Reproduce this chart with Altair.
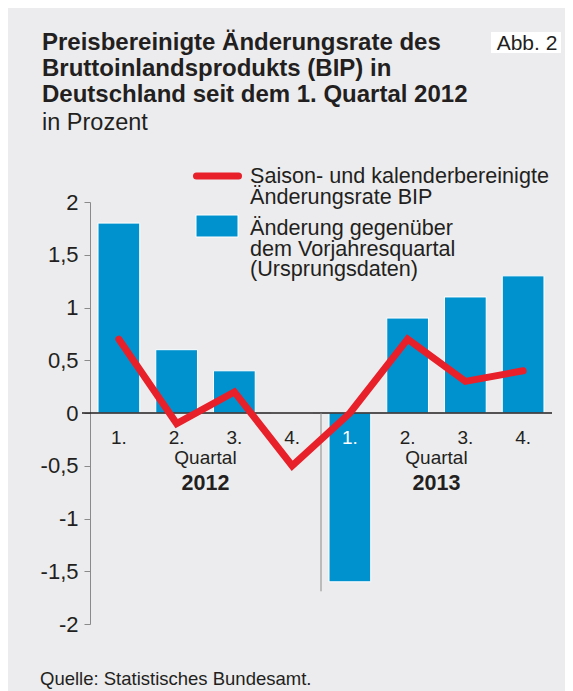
import altair as alt
import pandas as pd

# ---- data ----
quarters = ["Q1 2012", "Q2 2012", "Q3 2012", "Q4 2012",
            "Q1 2013", "Q2 2013", "Q3 2013", "Q4 2013"]
quarter_labels = ["1.", "2.", "3.", "4.", "1.", "2.", "3.", "4."]
label_colors = ["#231f20", "#231f20", "#231f20", "#231f20",
                "#ffffff", "#231f20", "#231f20", "#231f20"]
yoy_change = [1.8, 0.6, 0.4, 0.0, -1.6, 0.9, 1.1, 1.3]
sa_change = [0.7, -0.1, 0.2, -0.5, 0.0, 0.7, 0.3, 0.4]
years = ["2012", "2013"]
year_anchor = ["Q2 2012", "Q2 2013"]
y_ticks = [-2, -1.5, -1, -0.5, 0, 0.5, 1, 1.5, 2]

df = pd.DataFrame({
    "q": quarters,
    "lab": quarter_labels,
    "col": label_colors,
    "yoy": yoy_change,
    "sa": sa_change,
})
years_df = pd.DataFrame({"q": year_anchor, "year": years})

FONT = "Liberation Sans"
TXT = "#231f20"
BLUE = "#0092cf"
RED = "#e8202a"
W, H = 462, 422

xsc = alt.Scale(domain=quarters, paddingInner=0.278, paddingOuter=0.139)
ysc = alt.Scale(domain=[-2, 2], nice=False, zero=False)
X = alt.X("q:N", scale=xsc, axis=None, sort=quarters)

base = alt.Chart(df)

bars = base.mark_bar(color=BLUE, stroke="white", strokeWidth=1).encode(
    x=X,
    y=alt.Y("yoy:Q", scale=ysc,
            axis=alt.Axis(values=y_ticks, title=None, grid=False,
                          domainColor="#8a8a8a", tickColor="#8a8a8a",
                          tickSize=6, labelPadding=6, labelFontSize=22,
                          labelColor=TXT, labelFont=FONT,
                          labelExpr="(datum.value < 0 ? '-' : '') + replace(toString(abs(datum.value)), '.', ',')")),
    y2=alt.datum(0),
)

zero_rule = alt.Chart(pd.DataFrame({"v": [0]})).mark_rule(color=TXT, strokeWidth=1.5).encode(
    y=alt.Y("v:Q", scale=ysc), x=alt.value(-8), x2=alt.value(W)
)

sep = alt.Chart(pd.DataFrame({"a": [0], "b": [-1.69]})).mark_rule(color="#8a8a8a", strokeWidth=1).encode(
    x=alt.value(W / 2), y=alt.Y("a:Q", scale=ysc), y2="b:Q"
)

line = base.mark_line(color=RED, strokeWidth=7, strokeCap="round", strokeJoin="miter").encode(
    x=X, y=alt.Y("sa:Q", scale=ysc)
)

qlabels = base.mark_text(font=FONT, fontSize=19, baseline="alphabetic", dy=31).encode(
    x=X, y=alt.Y(datum=0, scale=ysc), text="lab:N", color=alt.Color("col:N", scale=None)
)

quartal = alt.Chart(years_df).mark_text(font=FONT, fontSize=19, baseline="alphabetic",
                                         dy=51, dx=W / 16, color=TXT).encode(
    x=X, y=alt.Y(datum=0, scale=ysc), text=alt.value("Quartal")
)
year_txt = alt.Chart(years_df).mark_text(font=FONT, fontSize=21.5, fontWeight="bold",
                                          baseline="alphabetic", dy=77, dx=W / 16, color=TXT).encode(
    x=X, y=alt.Y(datum=0, scale=ysc), text="year:N"
)

one = pd.DataFrame({"k": [1]})

def txt(text, x, y, size, bold=False, align="left", lh=None, color=TXT):
    kw = dict(font=FONT, fontSize=size, align=align, baseline="alphabetic", color=color)
    if bold:
        kw["fontWeight"] = "bold"
    if lh:
        kw["lineBreak"] = "\n"
        kw["lineHeight"] = lh
    return alt.Chart(one).mark_text(**kw).encode(
        x=alt.value(x), y=alt.value(y), text=alt.value(text))

title = txt("Preisbereinigte Änderungsrate des\nBruttoinlandsprodukts (BIP) in\nDeutschland seit dem 1. Quartal 2012",
            -48, -152, 24, bold=True, lh=26)
subtitle = txt("in Prozent", -48, -72, 23.5)

abb_box = alt.Chart(one).mark_rect(color="white").encode(
    x=alt.value(401), x2=alt.value(471), y=alt.value(-170), y2=alt.value(-149))
abb_txt = txt("Abb. 2", 437, -152, 21, align="center")

leg_line = alt.Chart(one).mark_rule(color=RED, strokeWidth=7, strokeCap="round").encode(
    x=alt.value(106.5), x2=alt.value(148.5), y=alt.value(-26))
leg_text1 = txt("Saison- und kalenderbereinigte\nÄnderungsrate BIP", 160, -19, 21.6, lh=20.5)
leg_rect = alt.Chart(one).mark_rect(color=BLUE, stroke="white", strokeWidth=1).encode(
    x=alt.value(106), x2=alt.value(148), y=alt.value(13), y2=alt.value(35))
leg_text2 = txt("Änderung gegenüber\ndem Vorjahresquartal\n(Ursprungsdaten)", 160, 33, 21.6, lh=20.5)

source = txt("Quelle: Statistisches Bundesamt.", -50, 483, 18.5)

chart = alt.layer(
    bars, zero_rule, sep, line, qlabels, quartal, year_txt,
    title, subtitle, abb_box, abb_txt,
    leg_line, leg_text1, leg_rect, leg_text2, source,
).properties(
    width=W, height=H,
    autosize=alt.AutoSizeParams(type="none"),
    padding={"left": 82, "top": 194, "right": 13, "bottom": 67},
    background="#ececee",
).configure_view(stroke=None)

chart.save("out.html", embed_options={"renderer": "svg", "actions": False})
